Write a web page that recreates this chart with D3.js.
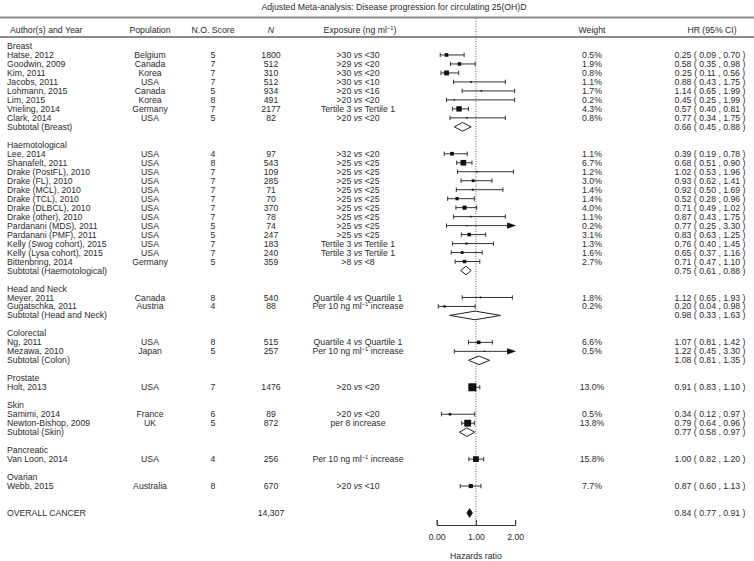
<!DOCTYPE html>
<html>
<head>
<meta charset="utf-8">
<script src="https://cdn.jsdelivr.net/npm/d3@7"></script>
<style>
  html, body { margin: 0; padding: 0; background: #fff; }
  svg { display: block; }
  text { font-family: "Liberation Sans", Arial, Helvetica, sans-serif; fill: #2b2b2b; }
</style>
</head>
<body>
<svg id="chart" width="754" height="561"></svg>
<script>
// ---------------- DATA ----------------
const title = "Adjusted Meta-analysis: Disease progression for circulating 25(OH)D";
const headers = ["Author(s) and Year", "Population", "N.O. Score", "N", "Exposure (ng ml-1)", "Weight", "HR (95% CI)"];

const groupNames = ["Breast", "Haemotological", "Head and Neck", "Colorectal", "Prostate", "Skin", "Pancreatic", "Ovarian"];
const subtotalLabels = ["Subtotal (Breast)", "Subtotal (Haemotological)", "Subtotal (Head and Neck)", "Subtotal (Colon)", null, "Subtotal (Skin)", null, null];

const authors = [
  ["Hatse, 2012", "Goodwin, 2009", "Kim, 2011", "Jacobs, 2011", "Lohmann, 2015", "Lim, 2015", "Vrieling, 2014", "Clark, 2014"],
  ["Lee, 2014", "Shanafelt, 2011", "Drake (PostFL), 2010", "Drake (FL), 2010", "Drake (MCL), 2010", "Drake (TCL), 2010", "Drake (DLBCL), 2010", "Drake (other), 2010", "Pardanani (MDS), 2011", "Pardanani (PMF), 2011", "Kelly (Swog cohort), 2015", "Kelly (Lysa cohort), 2015", "Bittenbring, 2014"],
  ["Meyer, 2011", "Gugatschka, 2011"],
  ["Ng, 2011", "Mezawa, 2010"],
  ["Holt, 2013"],
  ["Samimi, 2014", "Newton-Bishop, 2009"],
  ["Van Loon, 2014"],
  ["Webb, 2015"]
];
const populations = [
  ["Belgium", "Canada", "Korea", "USA", "Canada", "Korea", "Germany", "USA"],
  ["USA", "USA", "USA", "USA", "USA", "USA", "USA", "USA", "USA", "USA", "USA", "USA", "Germany"],
  ["Canada", "Austria"],
  ["USA", "Japan"],
  ["USA"],
  ["France", "UK"],
  ["USA"],
  ["Australia"]
];
const noScores = [
  [5, 7, 7, 7, 5, 8, 7, 5],
  [4, 8, 7, 7, 7, 7, 7, 7, 5, 5, 7, 7, 5],
  [8, 4],
  [8, 5],
  [7],
  [6, 5],
  [4],
  [8]
];
const sampleN = [
  ["1800", "512", "310", "512", "934", "491", "2177", "82"],
  ["97", "543", "109", "285", "71", "70", "370", "78", "74", "247", "183", "240", "359"],
  ["540", "88"],
  ["515", "257"],
  ["1476"],
  ["89", "872"],
  ["256"],
  ["670"]
];
const exposures = [
  [">30 vs <30", ">29 vs <20", ">30 vs <20", ">30 vs <10", ">20 vs <16", ">20 vs <20", "Tertile 3 vs Tertile 1", ">20 vs <20"],
  [">32 vs <20", ">25 vs <25", ">25 vs <25", ">25 vs <25", ">25 vs <25", ">25 vs <25", ">25 vs <25", ">25 vs <25", ">25 vs <25", ">25 vs <25", "Tertile 3 vs Tertile 1", "Tertile 3 vs Tertile 1", ">8 vs <8"],
  ["Quartile 4 vs Quartile 1", "Per 10 ng ml-1 increase"],
  ["Quartile 4 vs Quartile 1", "Per 10 ng ml-1 increase"],
  [">20 vs <20"],
  [">20 vs <20", "per 8 increase"],
  ["Per 10 ng ml-1 increase"],
  [">20 vs <10"]
];
const weights = [
  ["0.5%", "1.9%", "0.8%", "1.1%", "1.7%", "0.2%", "4.3%", "0.8%"],
  ["1.1%", "6.7%", "1.2%", "3.0%", "1.4%", "1.4%", "4.0%", "1.1%", "0.2%", "3.1%", "1.3%", "1.6%", "2.7%"],
  ["1.8%", "0.2%"],
  ["6.6%", "0.5%"],
  ["13.0%"],
  ["0.5%", "13.8%"],
  ["15.8%"],
  ["7.7%"]
];
// HR, lower CI, upper CI per study
const hr = [
  [0.25, 0.58, 0.25, 0.88, 1.14, 0.45, 0.57, 0.77],
  [0.39, 0.68, 1.02, 0.93, 0.92, 0.52, 0.71, 0.87, 0.77, 0.83, 0.76, 0.65, 0.71],
  [1.12, 0.20],
  [1.07, 1.22],
  [0.91],
  [0.34, 0.79],
  [1.00],
  [0.87]
];
const lower = [
  [0.09, 0.35, 0.11, 0.43, 0.65, 0.25, 0.40, 0.34],
  [0.19, 0.51, 0.53, 0.62, 0.50, 0.28, 0.49, 0.43, 0.25, 0.63, 0.40, 0.37, 0.47],
  [0.65, 0.04],
  [0.81, 0.45],
  [0.83],
  [0.12, 0.64],
  [0.82],
  [0.60]
];
const upper = [
  [0.70, 0.98, 0.56, 1.75, 1.99, 1.99, 0.81, 1.75],
  [0.78, 0.90, 1.96, 1.41, 1.69, 0.96, 1.02, 1.75, 3.30, 1.25, 1.45, 1.16, 1.10],
  [1.93, 0.98],
  [1.42, 3.30],
  [1.10],
  [0.97, 0.96],
  [1.20],
  [1.13]
];
// subtotal pooled estimates [HR, lower, upper]
const subtotals = [
  [0.66, 0.45, 0.88],
  [0.75, 0.61, 0.88],
  [0.98, 0.33, 1.63],
  [1.08, 0.81, 1.35],
  null,
  [0.77, 0.58, 0.97],
  null,
  null
];
const overall = { label: "OVERALL CANCER", n: "14,307", hr: 0.84, lo: 0.77, hi: 0.91 };
const axisTicks = [0, 1, 2];
const axisTitle = "Hazards ratio";

// ---------------- BUILD ROWS ----------------
const rows = [];
let r = 0;
groupNames.forEach((g, gi) => {
  rows.push({ type: "group", row: r++, label: g });
  authors[gi].forEach((a, si) => {
    rows.push({
      type: "study", row: r++, label: a, pop: populations[gi][si], score: noScores[gi][si],
      n: sampleN[gi][si], exp: exposures[gi][si], w: weights[gi][si],
      hr: hr[gi][si], lo: lower[gi][si], hi: upper[gi][si]
    });
  });
  if (subtotals[gi]) {
    const s = subtotals[gi];
    rows.push({ type: "subtotal", row: r++, label: subtotalLabels[gi], hr: s[0], lo: s[1], hi: s[2] });
  }
  r++; // blank row
});
r++; // extra blank before overall
rows.push({ type: "overall", row: r, label: overall.label, n: overall.n, hr: overall.hr, lo: overall.lo, hi: overall.hi });

// ---------------- LAYOUT ----------------
const svg = d3.select("#chart");
const FS = 8.7;
const y = d3.scaleLinear().domain([0, r]).range([46, 513]);
const x = d3.scaleLinear().domain([0, 2]).range([436.7, 515.1]);
const col = { author: 7, pop: 150, score: 213, n: 271, exp: 358, weight: 592, hr: 710 };
const axisY = 525;
const fmt = d3.format(".2f");
const hrText = d => `${fmt(d.hr)} ( ${fmt(d.lo)} , ${fmt(d.hi)} )`;

function rich(sel, str) {
  const parts = str.split(/( vs |ml-1)/);
  let pendingDy = 0;
  const add = (txt) => {
    const t = sel.append("tspan").text(txt);
    if (pendingDy) { t.attr("dy", pendingDy); pendingDy = 0; }
    return t;
  };
  parts.forEach(p => {
    if (!p) return;
    if (p === " vs ") {
      add(" ");
      add("vs").attr("font-style", "italic");
      add(" ");
    } else if (p === "ml-1") {
      add("ml");
      sel.append("tspan").attr("dy", -3).attr("font-size", 5.8).text("\u22121");
      pendingDy = 3;
    } else {
      add(p);
    }
  });
}

// title
svg.append("text").attr("x", 394).attr("y", 7).attr("dy", "0.35em")
  .attr("text-anchor", "middle").attr("font-size", FS).text(title);

// rules
svg.append("line").attr("x1", 0).attr("x2", 754).attr("y1", 17.5).attr("y2", 17.5)
  .attr("stroke", "#8a8a8a").attr("stroke-width", 2);
svg.append("line").attr("x1", 0).attr("x2", 754).attr("y1", 37).attr("y2", 37)
  .attr("stroke", "#8a8a8a").attr("stroke-width", 2);

// reference line at HR = 1
svg.append("line").attr("x1", x(1)).attr("x2", x(1)).attr("y1", 18.5).attr("y2", axisY)
  .attr("stroke", "#666").attr("stroke-width", 1).attr("stroke-dasharray", "1,1.5");

// headers
const hy = 29.5;
const hdr = svg.append("g").attr("font-size", FS);
hdr.append("text").attr("x", 10).attr("y", hy).attr("dy", "0.35em").text(headers[0]);
hdr.append("text").attr("x", col.pop).attr("y", hy).attr("dy", "0.35em").attr("text-anchor", "middle").text(headers[1]);
hdr.append("text").attr("x", col.score).attr("y", hy).attr("dy", "0.35em").attr("text-anchor", "middle").text(headers[2]);
hdr.append("text").attr("x", col.n).attr("y", hy).attr("dy", "0.35em").attr("text-anchor", "middle").attr("font-style", "italic").text(headers[3]);
rich(hdr.append("text").attr("x", col.exp + 2).attr("y", hy).attr("dy", "0.35em").attr("text-anchor", "middle"), headers[4]);
hdr.append("text").attr("x", col.weight).attr("y", hy).attr("dy", "0.35em").attr("text-anchor", "middle").text(headers[5]);
hdr.append("text").attr("x", 712).attr("y", hy).attr("dy", "0.35em").attr("text-anchor", "middle").text(headers[6]);

// table text
const tg = svg.append("g").attr("font-size", FS);
rows.forEach(d => {
  const yy = y(d.row);
  tg.append("text").attr("x", col.author).attr("y", yy).attr("dy", "0.35em").text(d.label);
  if (d.type === "study") {
    tg.append("text").attr("x", col.pop).attr("y", yy).attr("dy", "0.35em").attr("text-anchor", "middle").text(d.pop);
    tg.append("text").attr("x", col.score).attr("y", yy).attr("dy", "0.35em").attr("text-anchor", "middle").text(d.score);
    tg.append("text").attr("x", col.n).attr("y", yy).attr("dy", "0.35em").attr("text-anchor", "middle").text(d.n);
    rich(tg.append("text").attr("x", col.exp).attr("y", yy).attr("dy", "0.35em").attr("text-anchor", "middle"), d.exp);
    tg.append("text").attr("x", col.weight).attr("y", yy).attr("dy", "0.35em").attr("text-anchor", "middle").text(d.w);
  }
  if (d.type === "overall") {
    tg.append("text").attr("x", col.n).attr("y", yy).attr("dy", "0.35em").attr("text-anchor", "middle").text(d.n);
  }
  if (d.type !== "group") {
    tg.append("text").attr("x", col.hr).attr("y", yy).attr("dy", "0.35em").attr("text-anchor", "middle").text(hrText(d));
  }
});

// forest marks
const fg = svg.append("g");
const boxSide = d => Math.max(1.4, Math.min(8, 2.2 / (d.hi - d.lo)));
rows.filter(d => d.type === "study").forEach(d => {
  const yy = y(d.row);
  const x1 = x(d.lo);
  const clipped = d.hi > 2;
  const x2 = clipped ? x(2) - 7 : x(d.hi);
  fg.append("line").attr("x1", x1).attr("x2", x2).attr("y1", yy).attr("y2", yy)
    .attr("stroke", "#333").attr("stroke-width", 1);
  fg.append("line").attr("x1", x1).attr("x2", x1).attr("y1", yy - 2.2).attr("y2", yy + 2.2)
    .attr("stroke", "#333").attr("stroke-width", 1);
  if (clipped) {
    fg.append("path").attr("d", `M${x(2) - 8},${yy - 3.2}L${x(2) + 1},${yy}L${x(2) - 8},${yy + 3.2}Z`)
      .attr("fill", "#111");
  } else {
    fg.append("line").attr("x1", x2).attr("x2", x2).attr("y1", yy - 2.2).attr("y2", yy + 2.2)
      .attr("stroke", "#333").attr("stroke-width", 1);
  }
  const s = boxSide(d);
  fg.append("rect").attr("x", x(d.hr) - s / 2).attr("y", yy - s / 2)
    .attr("width", s).attr("height", s).attr("fill", "#111");
});
rows.filter(d => d.type === "subtotal" || d.type === "overall").forEach(d => {
  const yy = y(d.row);
  const h = 4.3;
  fg.append("path")
    .attr("d", `M${x(d.lo)},${yy}L${x(d.hr)},${yy - h}L${x(d.hi)},${yy}L${x(d.hr)},${yy + h}Z`)
    .attr("fill", d.type === "overall" ? "#111" : "#fff")
    .attr("stroke", "#222").attr("stroke-width", 1);
});

// axis
const axis = d3.axisBottom(x).tickValues(axisTicks).tickFormat(fmt).tickSize(-5).tickPadding(9);
const ag = svg.append("g").attr("transform", `translate(0,${axisY})`).call(axis);
ag.selectAll("path, line").attr("stroke", "#333");
ag.selectAll("text").attr("font-size", FS).attr("font-family", "Liberation Sans, Arial, sans-serif").attr("fill", "#2b2b2b");
svg.append("text").attr("x", x(1)).attr("y", 556).attr("dy", "0.35em")
  .attr("text-anchor", "middle").attr("font-size", FS).text(axisTitle);
</script>
</body>
</html>
